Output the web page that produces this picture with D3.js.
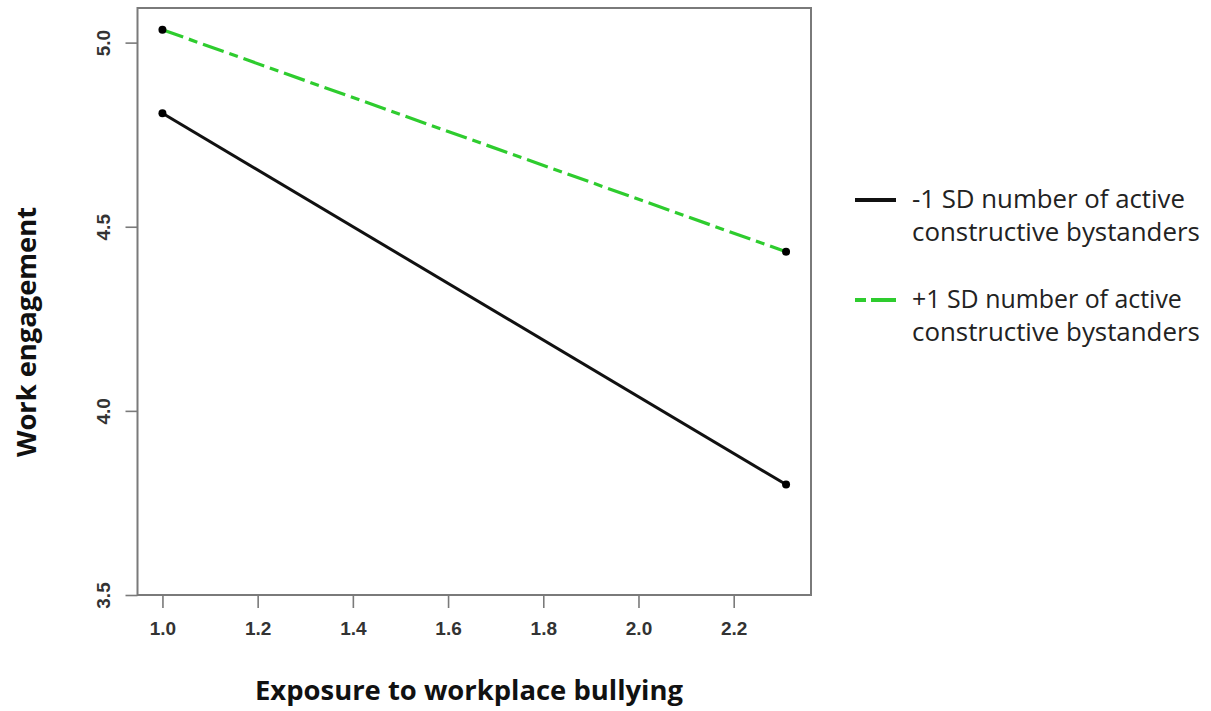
<!DOCTYPE html>
<html>
<head>
<meta charset="utf-8">
<script src="https://cdn.jsdelivr.net/npm/d3@7"></script>
<style>
  html, body { margin: 0; padding: 0; background: #fff; }
  svg { display: block; }
</style>
</head>
<body>
<svg id="chart" width="1211" height="711"></svg>
<script>
// ---- data ----
const xValues = [1.0, 2.31];
const lowSeries = [4.808, 3.80];   // -1 SD
const highSeries = [5.035, 4.432]; // +1 SD
const seriesNames = ["-1 SD number of active constructive bystanders",
                     "+1 SD number of active constructive bystanders"];
const legendLines = [["-1 SD number of active", "constructive bystanders"],
                     ["+1 SD number of active", "constructive bystanders"]];
const xTicks = [1.0, 1.2, 1.4, 1.6, 1.8, 2.0, 2.2];
const yTicks = [3.5, 4.0, 4.5, 5.0];
const xTitle = "Exposure to workplace bullying";
const yTitle = "Work engagement";

// ---- layout ----
const W = 1211, H = 711;
const box = { left: 137.5, right: 811, top: 8, bottom: 595 };
const svg = d3.select("#chart");

const xr = xValues[1] - xValues[0];
const x = d3.scaleLinear()
  .domain([xValues[0] - 0.04 * xr, xValues[1] + 0.04 * xr])
  .range([box.left, box.right]);
const y = d3.scaleLinear()
  .domain([3.5, 5.094])
  .range([box.bottom, box.top]);

const grey = "#7a7a7a";
const tickFont = "'Liberation Sans', Arial, sans-serif";
const textFont = "'Open Sans', 'Noto Sans', sans-serif";

// box
svg.append("rect")
  .attr("x", box.left).attr("y", box.top)
  .attr("width", box.right - box.left).attr("height", box.bottom - box.top)
  .attr("fill", "none").attr("stroke", grey).attr("stroke-width", 2);

// x axis
const xAxis = svg.append("g")
  .attr("transform", `translate(0,${box.bottom})`)
  .call(d3.axisBottom(x).tickValues(xTicks).tickFormat(d3.format(".1f")).tickSize(13).tickPadding(14));
xAxis.select(".domain").remove();
xAxis.selectAll(".tick line").attr("stroke", grey).attr("stroke-width", 1.6);
xAxis.selectAll(".tick text")
  .attr("font-family", tickFont).attr("font-weight", "bold")
  .attr("font-size", 19).attr("fill", "#333");

// y axis
const yAxis = svg.append("g")
  .attr("transform", `translate(${box.left},0)`)
  .call(d3.axisLeft(y).tickValues(yTicks).tickFormat(d3.format(".1f")).tickSize(12));
yAxis.select(".domain").remove();
yAxis.selectAll(".tick line").attr("stroke", grey).attr("stroke-width", 1.6);
yAxis.selectAll(".tick text")
  .attr("font-family", tickFont).attr("font-weight", "bold")
  .attr("font-size", 19).attr("fill", "#333")
  .attr("x", 0).attr("dy", 0)
  .attr("text-anchor", "middle")
  .attr("transform", "translate(-28,0) rotate(-90)");

// lines
const line = d3.line().x((d, i) => x(xValues[i])).y(d => y(d));
svg.append("path").datum(lowSeries)
  .attr("d", line).attr("fill", "none")
  .attr("stroke", "#111").attr("stroke-width", 3);
svg.append("path").datum(highSeries)
  .attr("d", line).attr("fill", "none")
  .attr("stroke", "#2ecc2e").attr("stroke-width", 3.2)
  .attr("stroke-dasharray", "22,6,9,6");

// points
[lowSeries, highSeries].forEach(s => {
  svg.selectAll(null).data(s).enter().append("circle")
    .attr("cx", (d, i) => x(xValues[i])).attr("cy", d => y(d))
    .attr("r", 4).attr("fill", "#000");
});

// axis titles
const fit = (sel, target) => {
  const n = sel.node();
  const fs = parseFloat(sel.attr("font-size"));
  const len = n.getComputedTextLength();
  sel.attr("font-size", (fs * target / len).toFixed(2));
};
const xt = svg.append("text")
  .attr("x", 469).attr("y", 700)
  .attr("text-anchor", "middle")
  .attr("font-family", textFont).attr("font-weight", "bold")
  .attr("font-size", 22).attr("fill", "#111")
  .text(xTitle);
fit(xt, 428);

const yt = svg.append("text")
  .attr("transform", "translate(36,332) rotate(-90)")
  .attr("text-anchor", "middle")
  .attr("font-family", textFont).attr("font-weight", "bold")
  .attr("font-size", 22).attr("fill", "#111")
  .text(yTitle);
fit(yt, 250);

// legend
const legendY = [200, 300];
const legendStyles = [
  { stroke: "#111", dash: null },
  { stroke: "#2ecc2e", dash: "11,5,30" }
];
const lg = svg.append("g");
legendLines.forEach((lines, i) => {
  lg.append("line")
    .attr("x1", 855).attr("x2", 896)
    .attr("y1", legendY[i]).attr("y2", legendY[i])
    .attr("stroke", legendStyles[i].stroke).attr("stroke-width", 4)
    .attr("stroke-dasharray", legendStyles[i].dash);
  lines.forEach((t, j) => {
    const tx = lg.append("text")
      .attr("x", 912).attr("y", legendY[i] + 8 + j * 33)
      .attr("font-family", textFont)
      .attr("font-size", 22).attr("fill", "#222")
      .text(t);
    if (j === 1) fit(tx, 288);
    else fit(tx, i === 0 ? 273 : 270);
  });
});
</script>
</body>
</html>
